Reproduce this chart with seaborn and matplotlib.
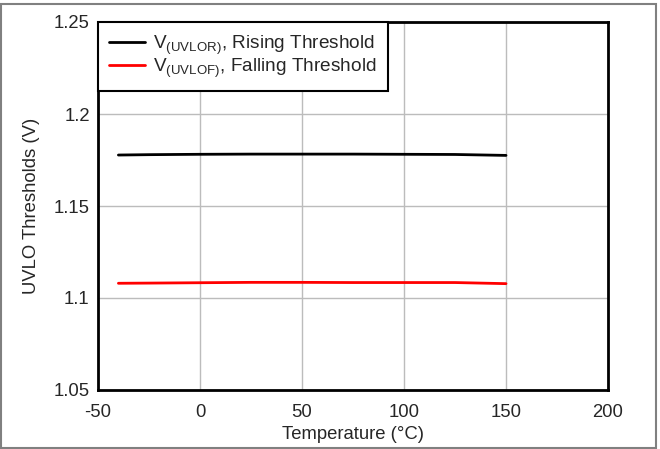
import seaborn as sns
import matplotlib.pyplot as plt
import pandas as pd

temps = [-40, -25, 0, 25, 50, 75, 100, 125, 150]
v_rising = [1.1777, 1.1779, 1.1781, 1.1782, 1.1782, 1.1782, 1.1781, 1.1780, 1.1775]
v_falling = [1.1080, 1.1081, 1.1083, 1.1085, 1.1085, 1.1084, 1.1084, 1.1084, 1.1078]

label_rise = r'V$_{\mathregular{(UVLOR)}}$, Rising Threshold'
label_fall = r'V$_{\mathregular{(UVLOF)}}$, Falling Threshold'

x_ticks = [-50, 0, 50, 100, 150, 200]
y_ticks = [1.05, 1.1, 1.15, 1.2, 1.25]
y_tick_labels = ['1.05', '1.1', '1.15', '1.2', '1.25']

sns.set_style('white')
plt.rcParams['font.family'] = ['Liberation Sans', 'DejaVu Sans']
plt.rcParams['mathtext.fontset'] = 'custom'
plt.rcParams['mathtext.rm'] = 'Liberation Sans'
plt.rcParams['mathtext.it'] = 'Liberation Sans'

fs = 13.3

df = pd.concat([
    pd.DataFrame({'Temperature': temps, 'V': v_rising, 'Series': label_rise}),
    pd.DataFrame({'Temperature': temps, 'V': v_falling, 'Series': label_fall}),
])

fig = plt.figure(figsize=(6.6, 4.49), dpi=100)
ax = fig.add_axes([98 / 660, 1 - 390 / 449, 510 / 660, 368 / 449])

sns.lineplot(data=df, x='Temperature', y='V', hue='Series',
             palette=['black', 'red'], linewidth=2, ax=ax)

ax.set_xlim(-50, 200)
ax.set_ylim(1.05, 1.25)
ax.set_xticks(x_ticks)
ax.set_xticklabels([str(t) for t in x_ticks])
ax.set_yticks(y_ticks)
ax.set_yticklabels(y_tick_labels)
ax.tick_params(labelsize=fs, length=0, pad=6)
ax.tick_params(axis='x', pad=10)
ax.grid(True, color='#bcbcbc', linewidth=1)
ax.set_axisbelow(True)
for s in ax.spines.values():
    s.set_color('black')
    s.set_linewidth(2)
ax.set_xlabel('Temperature (°C)', fontsize=fs, labelpad=4)
ax.set_ylabel('UVLO Thresholds (V)', fontsize=fs, labelpad=10)

leg = ax.legend(loc='upper left', fontsize=13.7, frameon=True, fancybox=False,
                borderaxespad=0, handlelength=1.85, labelspacing=0.0,
                borderpad=0.6, handletextpad=0.45)
leg.get_frame().set_edgecolor('black')
leg.get_frame().set_linewidth(1.5)
leg.get_frame().set_alpha(1)

fig.patches.append(plt.Rectangle((0.002, 0.002), 0.992, 0.99, transform=fig.transFigure,
                                 fill=False, edgecolor='#808080', linewidth=1.5))

fig.savefig('out.png', dpi=100)
